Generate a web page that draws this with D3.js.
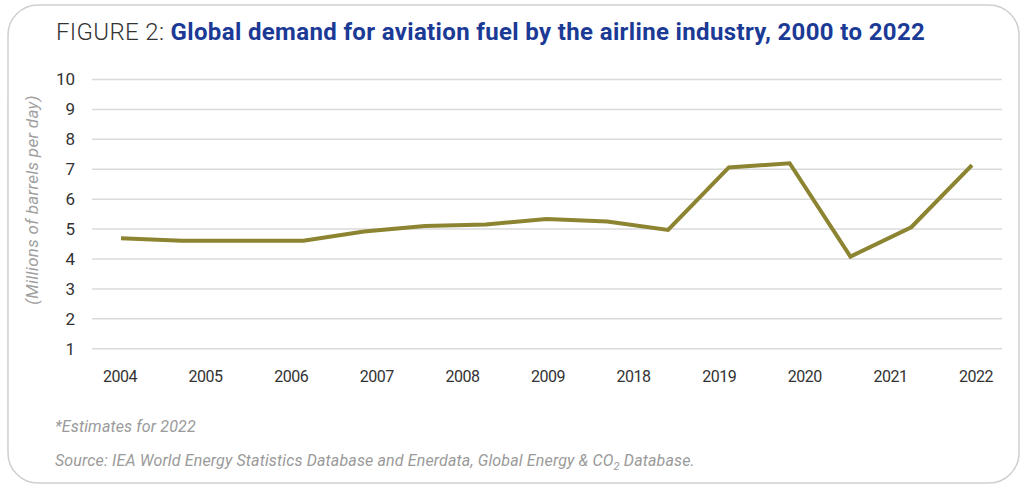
<!DOCTYPE html>
<html>
<head>
<meta charset="utf-8">
<script src="https://cdn.jsdelivr.net/npm/d3@7"></script>
<style>
  body { margin: 0; background: #fff; }
  svg { display: block; font-family: Roboto, "Liberation Sans", sans-serif; }
</style>
</head>
<body>
<div id="chart"></div>
<script>
// x tick labels (the line itself has more points than there are labels)
var tickLabels = ["2004", "2005", "2006", "2007", "2008", "2009", "2018", "2019", "2020", "2021", "2022"];
// millions of barrels per day
var fuelDemand = [4.69, 4.61, 4.61, 4.61, 4.92, 5.10, 5.15, 5.34, 5.25, 4.97, 7.06, 7.20, 4.08, 5.06, 7.14];
var yTicks = [1, 2, 3, 4, 5, 6, 7, 8, 9, 10];

var width = 1024, height = 489;

var svg = d3.select("#chart").append("svg")
    .attr("width", width)
    .attr("height", height);

// card outline
svg.append("rect")
    .attr("x", 8).attr("y", 5)
    .attr("width", 1011).attr("height", 478)
    .attr("rx", 30).attr("ry", 30)
    .attr("fill", "#fff")
    .attr("stroke", "#cfcfcf")
    .attr("stroke-width", 1.5);

// title
var title = svg.append("text")
    .attr("x", 56).attr("y", 40)
    .style("font-size", "24px")
    .style("letter-spacing", "0.35px");
title.append("tspan")
    .attr("fill", "#333")
    .style("font-weight", 300)
    .text("FIGURE 2: ");
title.append("tspan")
    .attr("fill", "#1b3a96")
    .style("font-weight", 700)
    .text("Global demand for aviation fuel by the airline industry, 2000 to 2022");

var y = d3.scaleLinear()
    .domain([1, 10])
    .range([348.7, 79.5]);

var xLab = d3.scalePoint()
    .domain(tickLabels)
    .range([120, 976]);

var xIdx = d3.scaleLinear()
    .domain([0, fuelDemand.length - 1])
    .range([121, 972]);

// gridlines
svg.append("g")
    .selectAll("line")
    .data(yTicks)
  .enter().append("line")
    .attr("x1", 92).attr("x2", 1002)
    .attr("y1", function(d) { return y(d); })
    .attr("y2", function(d) { return y(d); })
    .attr("stroke", "#dadada")
    .attr("stroke-width", 1.5);

// y tick labels
svg.append("g")
    .selectAll("text")
    .data(yTicks)
  .enter().append("text")
    .attr("x", 75)
    .attr("y", function(d) { return y(d); })
    .attr("dy", "0.35em")
    .attr("text-anchor", "end")
    .attr("fill", "#333")
    .style("font-size", "17px")
    .text(function(d) { return d; });

// x tick labels
svg.append("g")
    .selectAll("text")
    .data(tickLabels)
  .enter().append("text")
    .attr("x", function(d) { return xLab(d); })
    .attr("y", 382)
    .attr("text-anchor", "middle")
    .attr("fill", "#333")
    .style("font-size", "16px")
    .style("letter-spacing", "-0.5px")
    .text(function(d) { return d; });

// y axis title
svg.append("text")
    .attr("transform", "translate(38,200) rotate(-90)")
    .attr("text-anchor", "middle")
    .attr("fill", "#a0a0a0")
    .style("font-size", "17px")
    .style("font-style", "italic")
    .style("letter-spacing", "0.3px")
    .text("(Millions of barrels per day)");

// the line
var line = d3.line()
    .x(function(d, i) { return xIdx(i); })
    .y(function(d) { return y(d); });

svg.append("path")
    .datum(fuelDemand)
    .attr("d", line)
    .attr("fill", "none")
    .attr("stroke", "#8c8431")
    .attr("stroke-width", 4)
    .attr("stroke-linejoin", "miter");

// footnotes
svg.append("text")
    .attr("x", 55).attr("y", 432)
    .attr("fill", "#9a9a9a")
    .style("font-size", "16px")
    .style("font-style", "italic")
    .style("letter-spacing", "0.15px")
    .text("*Estimates for 2022");

var src = svg.append("text")
    .attr("x", 55).attr("y", 466)
    .attr("fill", "#9a9a9a")
    .style("font-size", "16px")
    .style("font-style", "italic")
    .style("letter-spacing", "0.15px");
src.append("tspan").text("Source: IEA World Energy Statistics Database and Enerdata, Global Energy & CO");
src.append("tspan").attr("dy", 4).style("font-size", "11px").text("2");
src.append("tspan").attr("dy", -4).text(" Database.");
</script>
</body>
</html>
